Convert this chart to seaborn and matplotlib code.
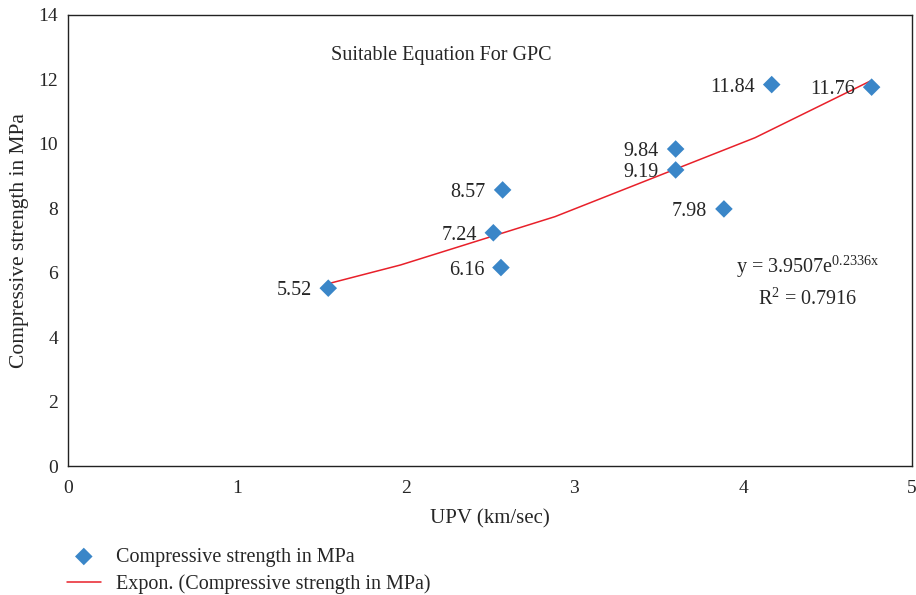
import matplotlib
matplotlib.use("Agg")
import matplotlib.pyplot as plt
import seaborn as sns
import pandas as pd

# data
upv = [1.542, 2.52, 2.565, 2.575, 3.60, 3.60, 3.886, 4.169, 4.761]
strength = [5.52, 7.24, 6.16, 8.57, 9.84, 9.19, 7.98, 11.84, 11.76]
labels = ["5.52", "7.24", "6.16", "8.57", "9.84", "9.19", "7.98", "11.84", "11.76"]

# exponential trendline as drawn (Excel polyline)
trend_x = [1.542, 1.97, 2.885, 4.07, 4.761]
trend_y = [5.66, 6.24, 7.74, 10.19, 11.97]

df = pd.DataFrame({"UPV": upv, "Strength": strength})
trend = pd.DataFrame({"UPV": trend_x, "Strength": trend_y})

sns.set_style("white")
plt.rcParams['font.family'] = ['Liberation Serif', 'DejaVu Serif']
plt.rcParams['mathtext.fontset'] = 'custom'
plt.rcParams['mathtext.rm'] = 'Liberation Serif'

fig = plt.figure(figsize=(9.16, 5.95), dpi=100)
ax = fig.add_axes([0.0742, 0.2168, 0.9214, 0.758])

sns.lineplot(data=trend, x="UPV", y="Strength", ax=ax, color="#e8202a", lw=1.1,
             label="Expon. (Compressive strength in MPa)", zorder=2)
sns.scatterplot(data=df, x="UPV", y="Strength", ax=ax, marker="D", s=80,
                color="#3a86c8", edgecolor="none", zorder=3,
                label="Compressive strength in MPa")

for xv, yv, t in zip(upv, strength, labels):
    ax.annotate(t, (xv, yv), xytext=(-12, -2), textcoords="offset points",
                ha="right", va="center", fontsize=14.5)

ax.text(2.21, 12.75, "Suitable Equation For GPC", ha="center", va="center", fontsize=14.5)
ax.text(4.38, 6.2, r"y = 3.9507e$^{\mathrm{0.2336x}}$", ha="center", va="center", fontsize=14.5)
ax.text(4.38, 5.2, r"R$^{2}$ = 0.7916", ha="center", va="center", fontsize=14.5)

ax.set_xlim(0, 5)
ax.set_ylim(0, 14)
ax.set_xticks([0, 1, 2, 3, 4, 5])
ax.set_yticks(range(0, 15, 2))
ax.tick_params(length=0, labelsize=14)
ax.tick_params(axis="x", pad=10)
ax.tick_params(axis="y", pad=7)
ax.set_xlabel("UPV (km/sec)", fontsize=15, labelpad=9)
ax.set_ylabel("Compressive strength in MPa", fontsize=15.5, labelpad=7)
for s in ax.spines.values():
    s.set_color("#222222")
    s.set_linewidth(1.0)

h, l = ax.get_legend_handles_labels()
leg = ax.legend(h[::-1], l[::-1], loc="upper left", bbox_to_anchor=(0.053, 0.11),
                bbox_transform=fig.transFigure, frameon=False, fontsize=14.5,
                handlelength=1.7, handletextpad=0.75, labelspacing=0.35)

fig.savefig("out.png", dpi=100)
